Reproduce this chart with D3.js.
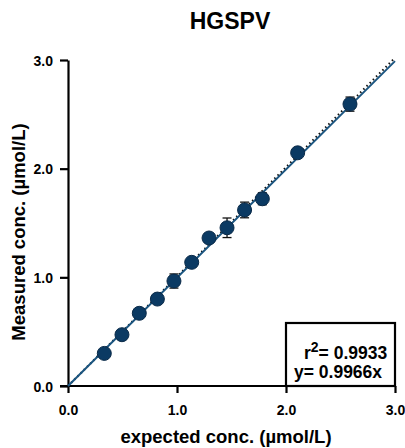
<!DOCTYPE html>
<html><head><meta charset="utf-8">
<script src="https://cdn.jsdelivr.net/npm/d3@7"></script>
<style>body{margin:0;background:#fff}svg{display:block;font-family:"Liberation Sans",Arial,sans-serif}</style>
</head><body><svg id="c" width="405" height="448"></svg>
<script>
const expected = [0.333, 0.495, 0.654, 0.82, 0.972, 1.135, 1.294, 1.459, 1.62, 1.783, 2.107, 2.587];
const measured = [0.30, 0.472, 0.669, 0.80, 0.966, 1.138, 1.362, 1.456, 1.62, 1.723, 2.146, 2.594];
const errors   = [0.02, 0.02, 0.03, 0.02, 0.065, 0.03, 0.03, 0.09, 0.072, 0.055, 0.03, 0.065];
const ticks = [0, 1, 2, 3];
const slope = 0.9966;
const r2 = 0.9933;

const svg = d3.select("#c");
const x = d3.scaleLinear().domain([0, 3]).range([68, 395]);
const y = d3.scaleLinear().domain([0, 3]).range([386, 60]);

svg.append("text").attr("x", 230).attr("y", 29).attr("text-anchor", "middle")
  .attr("font-size", 23).attr("font-weight", "bold").text("HGSPV");

// axes
const xa = svg.append("g").attr("transform", "translate(0,386)")
  .call(d3.axisBottom(x).tickValues(ticks).tickFormat(d3.format(".1f")).tickSize(7).tickSizeOuter(0));
const ya = svg.append("g").attr("transform", "translate(68,0)")
  .call(d3.axisLeft(y).tickValues(ticks).tickFormat(d3.format(".1f")).tickSize(8).tickSizeOuter(0));
[xa, ya].forEach(a => {
  a.select(".domain").attr("stroke", "#000").attr("stroke-width", 2.2);
  a.selectAll(".tick line").attr("stroke", "#000").attr("stroke-width", 2.2);
  a.selectAll(".tick text").attr("fill", "#000").attr("font-size", 14).attr("font-weight", "bold")
    .attr("font-family", "'Liberation Sans',Arial,sans-serif");
});
xa.selectAll(".tick text").attr("y", 29).attr("dy", 0);
ya.selectAll(".tick text").attr("x", -15).attr("dy", "0.36em");
xa.select(".domain").attr("d", `M${60},0H${x(3)}`);

// legend box
svg.append("rect").attr("x", x(2)).attr("y", 323).attr("width", x(3) - x(2)).attr("height", 386 - 323)
  .attr("fill", "#fff").attr("stroke", "#000").attr("stroke-width", 2.2);
const t1 = svg.append("text").attr("x", 304).attr("y", 359).attr("font-size", 17.5).attr("font-weight", "bold");
t1.append("tspan").text("r");
t1.append("tspan").attr("dy", -7).attr("font-size", 14).text("2");
t1.append("tspan").attr("dy", 7).text("= " + r2.toFixed(4));
svg.append("text").attr("x", 294).attr("y", 378).attr("font-size", 17.5).attr("font-weight", "bold")
  .text("y= " + slope + "x");

// fit lines
svg.append("line").attr("x1", x(0)).attr("y1", y(0)).attr("x2", x(3)).attr("y2", y(3.02))
  .attr("stroke", "#111").attr("stroke-width", 2).attr("stroke-dasharray", "1.5,3");
svg.append("line").attr("x1", x(0)).attr("y1", y(0)).attr("x2", x(3)).attr("y2", y(3 * slope))
  .attr("stroke", "#1b5580").attr("stroke-width", 2);

// error bars
const pts = expected.map((e, i) => ({e, m: measured[i], s: errors[i]}));
const eb = svg.append("g").attr("stroke", "#111").attr("stroke-width", 1.3);
pts.forEach(p => {
  eb.append("line").attr("x1", x(p.e)).attr("x2", x(p.e)).attr("y1", y(p.m - p.s)).attr("y2", y(p.m + p.s));
  [p.m - p.s, p.m + p.s].forEach(v => eb.append("line").attr("x1", x(p.e) - 4.5).attr("x2", x(p.e) + 4.5)
    .attr("y1", y(v)).attr("y2", y(v)));
});
svg.append("g").selectAll("circle").data(pts).join("circle")
  .attr("cx", d => x(d.e)).attr("cy", d => y(d.m)).attr("r", 7)
  .attr("fill", "#0b3a63").attr("stroke", "#0a2a48").attr("stroke-width", 1);

// axis titles
svg.append("text").attr("transform", "translate(25,232) rotate(-90)").attr("text-anchor", "middle")
  .attr("font-size", 18.5).attr("font-weight", "bold").text("Measured conc. (µmol/L)");
svg.append("text").attr("x", 226).attr("y", 443).attr("text-anchor", "middle")
  .attr("font-size", 18.5).attr("font-weight", "bold").text("expected conc. (µmol/L)");
</script></body></html>
